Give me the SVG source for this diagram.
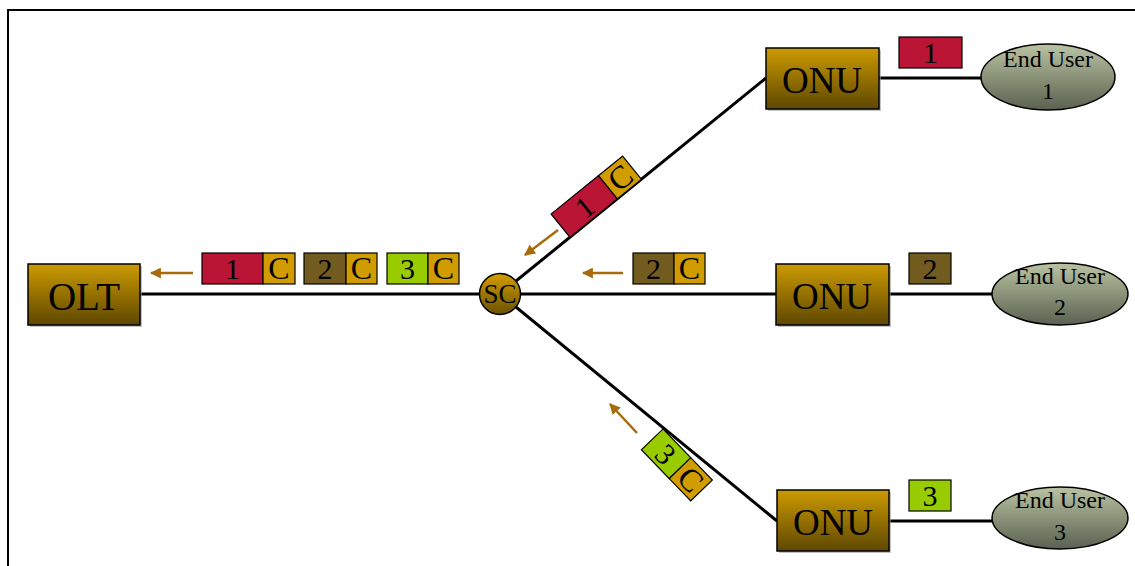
<svg xmlns="http://www.w3.org/2000/svg" width="1135" height="566" viewBox="0 0 1135 566">
  <style>
    .frame { fill: none; stroke: #000; stroke-width: 2; }
    .link { fill: none; stroke: #000; stroke-width: 3; }
    .flow { fill: none; stroke: #A66C0B; stroke-width: 2.5; marker-end: url(#head); }
    .box { stroke: #000; stroke-width: 1.5; }
    .shadow { fill: #9a9a9a; opacity: 0.6; }
    .cell { stroke: #000; stroke-width: 1.2; }
    .red { fill: #BA1534; }
    .gold { fill: #D09C00; }
    .brown { fill: #715B1E; }
    .green { fill: #99CC00; }
    text { font-family: "Liberation Serif", "Times New Roman", serif; fill: #000; text-anchor: middle; }
    .big { font-size: 37px; }
    .olt { font-size: 39px; }
    .cellt { font-size: 30px; }
    .ct { font-size: 32px; }
    .eu { font-size: 24px; }
    .sc { font-size: 27px; }
  </style>
  <defs>
    <linearGradient id="boxFill" x1="0" y1="0" x2="0" y2="1">
      <stop offset="0" stop-color="#CC9A00"/>
      <stop offset="1" stop-color="#5E4700"/>
    </linearGradient>
    <linearGradient id="userFill" x1="0" y1="0" x2="0" y2="1">
      <stop offset="0" stop-color="#BAC3A2"/>
      <stop offset="1" stop-color="#5A6150"/>
    </linearGradient>
    <linearGradient id="scFill" x1="0" y1="0" x2="0" y2="1">
      <stop offset="0" stop-color="#D49E00"/>
      <stop offset="1" stop-color="#6A5000"/>
    </linearGradient>
    <marker id="head" viewBox="0 0 10 10" refX="9" refY="5" markerWidth="4.4" markerHeight="4.4" orient="auto" markerUnits="strokeWidth">
      <path d="M0,0 L10,5 L0,10 Z" fill="#A66C0B"/>
    </marker>
  </defs>

  <!-- page frame -->
  <path class="frame" d="M8,566 V10 H1135"/>

  <!-- fibre links -->
  <g id="connectors">
    <line class="link" x1="140" y1="294" x2="480" y2="294"/>
    <line class="link" x1="500" y1="294" x2="766" y2="78"/>
    <line class="link" x1="520" y1="294" x2="777" y2="294"/>
    <line class="link" x1="500" y1="294" x2="777" y2="521"/>
    <line class="link" x1="879" y1="78" x2="982" y2="78"/>
    <line class="link" x1="889" y1="294" x2="992" y2="294"/>
    <line class="link" x1="889" y1="521" x2="992" y2="521"/>
    <!-- upstream direction arrows -->
    <line class="flow" x1="193" y1="273" x2="151" y2="273"/>
    <line class="flow" x1="558" y1="230" x2="525" y2="255"/>
    <line class="flow" x1="623" y1="273" x2="583" y2="273"/>
    <line class="flow" x1="637" y1="433" x2="610" y2="404"/>
  </g>

  <!-- OLT -->
  <g id="olt">
    <rect class="shadow" x="30" y="266" width="112" height="61"/>
    <rect class="box" x="28" y="264" width="112" height="61" fill="url(#boxFill)"/>
    <text class="olt" x="84" y="310">OLT</text>
  </g>

  <!-- splitter -->
  <g id="sc">
    <circle class="box" cx="500" cy="294" r="20.5" fill="url(#scFill)"/>
    <text class="sc" x="500" y="303">SC</text>
  </g>

  <!-- ONUs -->
  <g id="onu1">
    <rect class="shadow" x="768" y="50" width="113" height="61"/>
    <rect class="box" x="766" y="48" width="113" height="61" fill="url(#boxFill)"/>
    <text class="big" x="822" y="93">ONU</text>
  </g>
  <g id="onu2">
    <rect class="shadow" x="778" y="266" width="113" height="61"/>
    <rect class="box" x="776" y="264" width="113" height="61" fill="url(#boxFill)"/>
    <text class="big" x="832" y="309">ONU</text>
  </g>
  <g id="onu3">
    <rect class="shadow" x="779" y="492" width="112" height="61"/>
    <rect class="box" x="777" y="490" width="112" height="61" fill="url(#boxFill)"/>
    <text class="big" x="833" y="535">ONU</text>
  </g>

  <!-- end users -->
  <g id="user1">
    <ellipse class="box" cx="1048" cy="77" rx="67" ry="33" fill="url(#userFill)"/>
    <text class="eu" x="1048" y="67">End User</text>
    <text class="eu" x="1048" y="99">1</text>
  </g>
  <g id="user2">
    <ellipse class="box" cx="1060" cy="294" rx="68" ry="31" fill="url(#userFill)"/>
    <text class="eu" x="1060" y="284">End User</text>
    <text class="eu" x="1060" y="315">2</text>
  </g>
  <g id="user3">
    <ellipse class="box" cx="1060" cy="518" rx="68" ry="31" fill="url(#userFill)"/>
    <text class="eu" x="1060" y="508">End User</text>
    <text class="eu" x="1060" y="540">3</text>
  </g>

  <!-- data bursts at the ONU side -->
  <g id="data1">
    <rect class="cell red" x="899" y="37" width="63" height="31"/>
    <text class="cellt" x="930.5" y="63">1</text>
  </g>
  <g id="data2">
    <rect class="cell brown" x="909" y="253" width="42" height="31"/>
    <text class="cellt" x="930" y="279">2</text>
  </g>
  <g id="data3">
    <rect class="cell green" x="909" y="480" width="42" height="31"/>
    <text class="cellt" x="930" y="506">3</text>
  </g>

  <!-- upstream bursts on the branches -->
  <g id="burst1" transform="translate(570,237.3) rotate(-39)">
    <rect class="cell red" x="0" y="-30" width="61" height="30"/>
    <rect class="cell gold" x="61" y="-30" width="31" height="30"/>
    <text class="cellt" x="30.5" y="-4">1</text>
    <text class="ct" x="76.5" y="-4">C</text>
  </g>
  <g id="burst2">
    <rect class="cell brown" x="633" y="253" width="41" height="31"/>
    <rect class="cell gold" x="674" y="253" width="31" height="31"/>
    <text class="cellt" x="653.5" y="279">2</text>
    <text class="ct" x="689.5" y="279">C</text>
  </g>
  <g id="burst3" transform="translate(663,429) rotate(46)">
    <rect class="cell green" x="0" y="0" width="40" height="30"/>
    <rect class="cell gold" x="40" y="0" width="31" height="30"/>
    <text class="cellt" x="20" y="26">3</text>
    <text class="ct" x="55.5" y="26">C</text>
  </g>

  <!-- combined burst on the trunk -->
  <g id="trunk">
    <rect class="cell red" x="202" y="253" width="61" height="31"/>
    <rect class="cell gold" x="263" y="253" width="32" height="31"/>
    <rect class="cell brown" x="304" y="253" width="42" height="31"/>
    <rect class="cell gold" x="346" y="253" width="31" height="31"/>
    <rect class="cell green" x="387" y="253" width="41" height="31"/>
    <rect class="cell gold" x="428" y="253" width="31" height="31"/>
    <text class="cellt" x="232.5" y="279">1</text>
    <text class="ct" x="279" y="279">C</text>
    <text class="cellt" x="325" y="279">2</text>
    <text class="ct" x="361.5" y="279">C</text>
    <text class="cellt" x="407.5" y="279">3</text>
    <text class="ct" x="443.5" y="279">C</text>
  </g>
</svg>
